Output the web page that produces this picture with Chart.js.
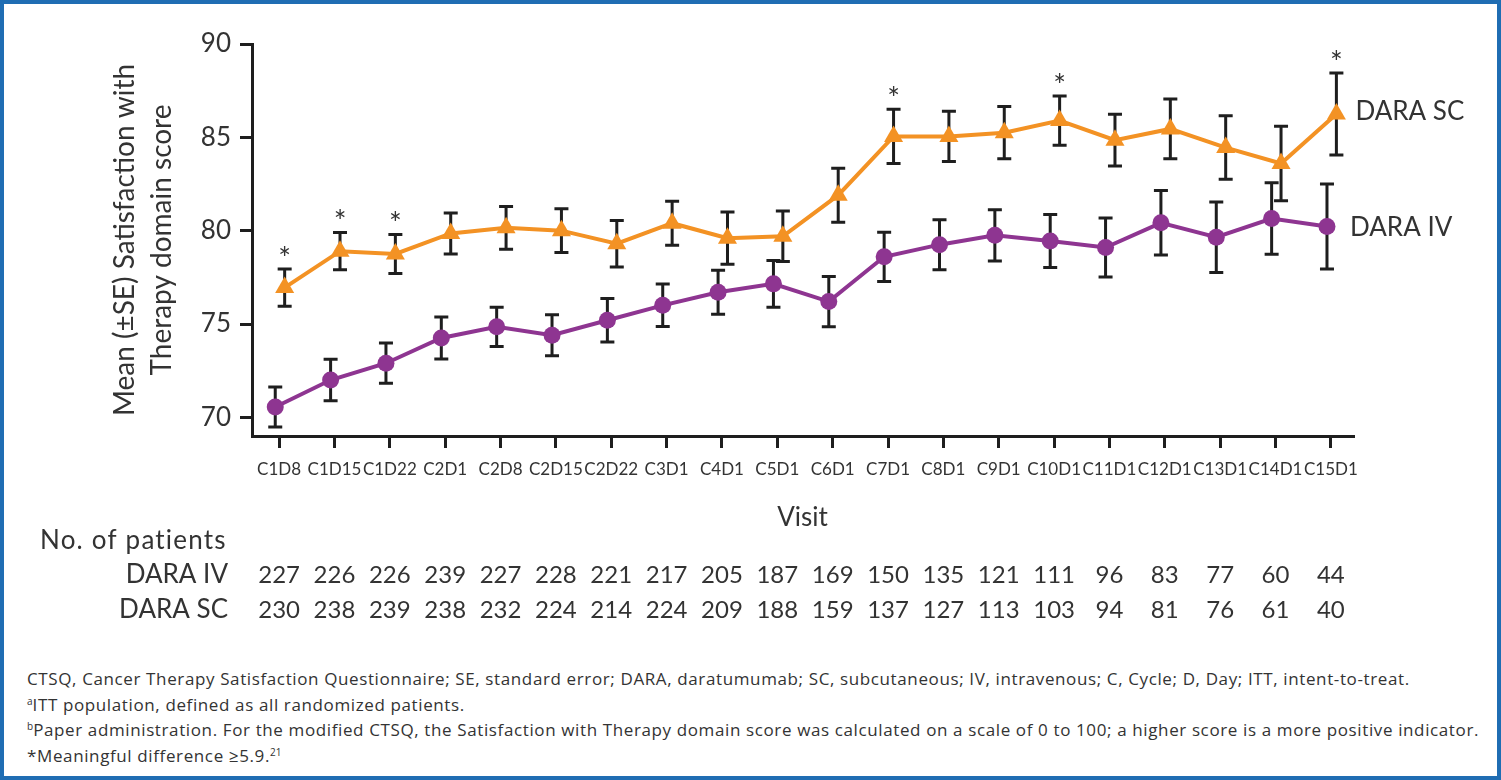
<!DOCTYPE html>
<html>
<head>
<meta charset="utf-8">
<script src="https://cdn.jsdelivr.net/npm/chart.js@4.4.1/dist/chart.umd.min.js"></script>
<style>
  html, body { margin: 0; padding: 0; background: #fff; }
  body { width: 1501px; height: 780px; position: relative; overflow: hidden; font-family: Lato, 'Open Sans', sans-serif; }
  #frame { position: absolute; left: 0; top: 0; width: 1501px; height: 780px; box-sizing: border-box; border: 4px solid #1f6db3; }
  #chartBox { position: absolute; left: 0; top: 0; width: 1501px; height: 650px; }
  #notes { position: absolute; left: 27px; top: 666px; color: #333; font-family: 'Open Sans', Lato, sans-serif; font-size: 17px; line-height: 25.5px; letter-spacing: 0.62px; white-space: nowrap; }
  #notes sup { font-size: 10px; line-height: 0; vertical-align: 6px; letter-spacing: 0; }
</style>
</head>
<body>
<div id="frame"></div>
<div id="chartBox"><canvas id="c"></canvas></div>
<div id="notes">
  <div>CTSQ, Cancer Therapy Satisfaction Questionnaire; SE, standard error; DARA, daratumumab; SC, subcutaneous; IV, intravenous; C, Cycle; D, Day; ITT, intent-to-treat.</div>
  <div><sup>a</sup>ITT population, defined as all randomized patients.</div>
  <div><sup>b</sup>Paper administration. For the modified CTSQ, the Satisfaction with Therapy domain score was calculated on a scale of 0 to 100; a higher score is a more positive indicator.</div>
  <div>*Meaningful difference ≥5.9.<sup>21</sup></div>
</div>
<script>
// visits + mean (±SE) values
var visits = ['C1D8','C1D15','C1D22','C2D1','C2D8','C2D15','C2D22','C3D1','C4D1','C5D1',
              'C6D1','C7D1','C8D1','C9D1','C10D1','C11D1','C12D1','C13D1','C14D1','C15D1'];

var scMean = [76.95, 78.9, 78.75, 79.85, 80.15, 80.0, 79.3, 80.4, 79.6, 79.7,
              81.9, 85.05, 85.05, 85.25, 85.9, 84.85, 85.45, 84.45, 83.6, 86.25];
var scSE   = [1.0, 1.0, 1.05, 1.1, 1.15, 1.17, 1.25, 1.18, 1.4, 1.35,
              1.45, 1.45, 1.35, 1.4, 1.32, 1.39, 1.6, 1.7, 2.0, 2.2];

var ivMean = [70.55, 72.0, 72.9, 74.25, 74.85, 74.4, 75.2, 76.0, 76.7, 77.15,
              76.2, 78.6, 79.25, 79.75, 79.45, 79.1, 80.42, 79.65, 80.65, 80.22];
var ivSE   = [1.07, 1.11, 1.08, 1.12, 1.05, 1.1, 1.17, 1.14, 1.18, 1.25,
              1.35, 1.32, 1.34, 1.37, 1.42, 1.58, 1.73, 1.89, 1.92, 2.28];

// * meaningful difference at these visits
var scSig  = [1,1,1,0,0,0,0,0,0,0,0,1,0,0,1,0,0,0,0,1];

var ivN = [227,226,226,239,227,228,221,217,205,187,169,150,135,121,111,96,83,77,60,44];
var scN = [230,238,239,238,232,224,214,224,209,188,159,137,127,113,103,94,81,76,61,40];

var yTicks = [70, 75, 80, 85, 90];

var ORANGE = '#f39224';
var PURPLE = '#8e3591';
var TEXT   = '#333333';
var AXIS   = '#1e1e1e';
var FONT   = "Lato, 'Open Sans', sans-serif";

// small horizontal dodge so the two series do not overlap
var DODGE_SC = 0.1, DODGE_IV = -0.07;

function _pts(vals, dodge) {
  return vals.map(function(v, i) { return { x: i + dodge, y: v }; });
}

var errorBars = {
  id: 'errorBars',
  beforeDatasetsDraw: function(chart) {
    var ctx = chart.ctx, xs = chart.scales.x, ys = chart.scales.y;
    var sets = [{ m: ivMean, se: ivSE, d: DODGE_IV }, { m: scMean, se: scSE, d: DODGE_SC }];
    ctx.save();
    ctx.strokeStyle = AXIS;
    ctx.lineWidth = 3;
    sets.forEach(function(s) {
      s.m.forEach(function(v, i) {
        var px = xs.getPixelForValue(i + s.d);
        var top = ys.getPixelForValue(v + s.se[i]);
        var bot = ys.getPixelForValue(v - s.se[i]);
        ctx.beginPath();
        ctx.moveTo(px, top); ctx.lineTo(px, bot);
        ctx.moveTo(px - 7, top); ctx.lineTo(px + 7, top);
        ctx.moveTo(px - 7, bot); ctx.lineTo(px + 7, bot);
        ctx.stroke();
      });
    });
    ctx.restore();
  }
};

var extras = {
  id: 'extras',
  afterDraw: function(chart) {
    var ctx = chart.ctx, xs = chart.scales.x, ys = chart.scales.y;
    ctx.save();
    ctx.fillStyle = TEXT;

    // asterisks
    ctx.font = '30px ' + FONT;
    ctx.textAlign = 'center';
    ctx.textBaseline = 'middle';
    scSig.forEach(function(f, i) {
      if (!f) return;
      var px = xs.getPixelForValue(i + DODGE_SC);
      var top = ys.getPixelForValue(scMean[i] + scSE[i]);
      ctx.fillText('*', px, top - 10);
    });

    // series labels at line ends
    var last = visits.length - 1;
    ctx.font = '26px ' + FONT;
    ctx.textAlign = 'left';
    ctx.fillText('DARA SC', xs.getPixelForValue(last + DODGE_SC) + 19, ys.getPixelForValue(scMean[last]) - 2);
    ctx.fillText('DARA IV', xs.getPixelForValue(last + DODGE_IV) + 23, ys.getPixelForValue(ivMean[last]) + 1);

    // number-of-patients table
    ctx.font = '26px ' + FONT;
    ctx.letterSpacing = '1.2px';
    ctx.fillText('No. of patients', 40, 541);
    ctx.letterSpacing = '0px';
    ctx.textAlign = 'right';
    ctx.fillText('DARA IV', 228, 575);
    ctx.fillText('DARA SC', 228, 610);
    ctx.font = '24px ' + FONT;
    ctx.textAlign = 'center';
    visits.forEach(function(v, i) {
      var px = xs.getPixelForValue(i);
      ctx.fillText(String(ivN[i]), px, 575);
      ctx.fillText(String(scN[i]), px, 610);
    });
    ctx.restore();
  }
};

new Chart(document.getElementById('c').getContext('2d'), {
  type: 'line',
  data: {
    datasets: [
      {
        label: 'DARA IV',
        data: _pts(ivMean, DODGE_IV),
        borderColor: PURPLE, backgroundColor: PURPLE,
        borderWidth: 4, pointStyle: 'circle', pointRadius: 8.5,
        pointBorderWidth: 0, tension: 0
      },
      {
        label: 'DARA SC',
        data: _pts(scMean, DODGE_SC),
        borderColor: ORANGE, backgroundColor: ORANGE,
        borderWidth: 4, pointStyle: 'triangle', pointRadius: 11,
        pointBorderWidth: 0, tension: 0
      }
    ]
  },
  options: {
    responsive: true,
    maintainAspectRatio: false,
    animation: false,
    layout: { padding: { left: 0, top: 44, right: 148, bottom: 114 } },
    plugins: { legend: { display: false }, tooltip: { enabled: false } },
    scales: {
      x: {
        type: 'linear',
        min: -0.49, max: 19.4,
        afterBuildTicks: function(s) { s.ticks = visits.map(function(_, i) { return { value: i }; }); },
        afterFit: function(s) { s.height = 100; },
        ticks: {
          autoSkip: false, maxRotation: 0, minRotation: 0, padding: 11, color: TEXT,
          font: { family: FONT, size: 17 },
          callback: function(v) { return visits[v]; }
        },
        grid: { drawOnChartArea: false, drawTicks: true, tickLength: 12, lineWidth: 3, tickWidth: 3, color: AXIS, tickColor: AXIS },
        border: { display: true, color: AXIS, width: 3 },
        title: { display: true, text: 'Visit', color: TEXT, font: { family: FONT, size: 26 }, padding: { top: 0, bottom: 3 } }
      },
      y: {
        min: 69, max: 90,
        afterBuildTicks: function(s) { s.ticks = yTicks.map(function(v) { return { value: v }; }); },
        afterFit: function(s) { s.width = 252; },
        ticks: { color: TEXT, padding: 9, font: { family: FONT, size: 26 } },
        grid: { drawOnChartArea: false, drawTicks: true, tickLength: 12, lineWidth: 3, tickWidth: 3, color: AXIS, tickColor: AXIS },
        border: { display: true, color: AXIS, width: 3 },
        title: {
          display: true,
          text: ['Mean (\u00b1SE) Satisfaction with', 'Therapy domain score'],
          color: TEXT,
          font: { family: FONT, size: 28, lineHeight: 1.3 },
          padding: { top: 107, bottom: 0 }
        }
      }
    }
  },
  plugins: [errorBars, extras]
});
</script>
</body>
</html>
